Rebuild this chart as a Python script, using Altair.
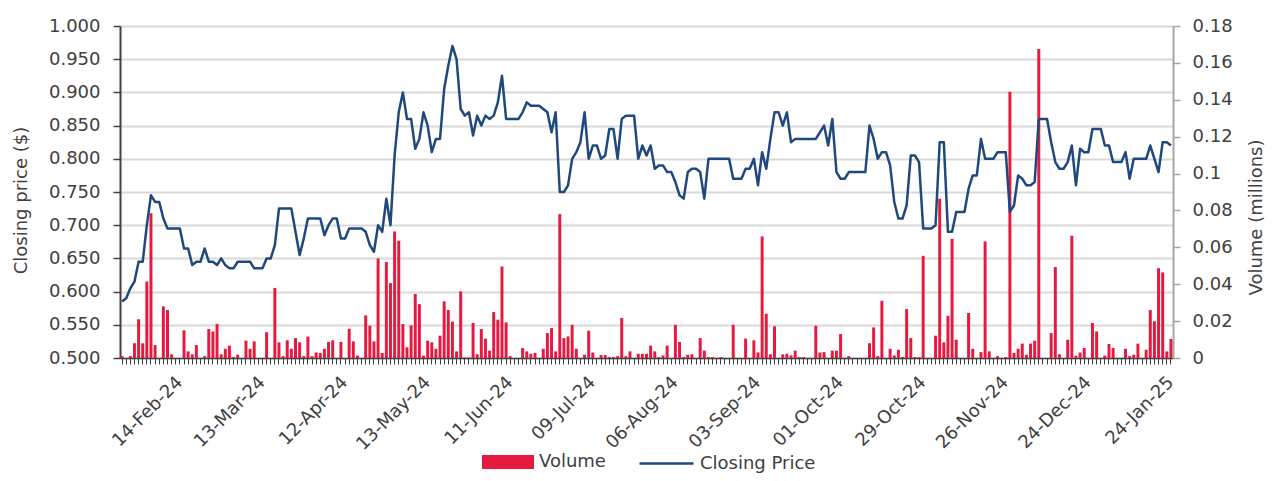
import altair as alt
import pandas as pd

# ---------------- data ----------------
PRICE = [
    0.585, 0.590, 0.605, 0.615, 0.645, 0.645, 0.700, 0.745, 0.735, 0.735,
    0.710, 0.695, 0.695, 0.695, 0.695, 0.665, 0.665, 0.640, 0.645, 0.645,
    0.665, 0.645, 0.645, 0.640, 0.650, 0.640, 0.635, 0.635, 0.645, 0.645,
    0.645, 0.645, 0.635, 0.635, 0.635, 0.650, 0.650, 0.670, 0.725, 0.725,
    0.725, 0.725, 0.690, 0.655, 0.680, 0.710, 0.710, 0.710, 0.710, 0.685,
    0.700, 0.710, 0.710, 0.680, 0.680, 0.695, 0.695, 0.695, 0.695, 0.690,
    0.670, 0.660, 0.700, 0.690, 0.740, 0.700, 0.805, 0.870, 0.900, 0.860,
    0.860, 0.815, 0.830, 0.870, 0.850, 0.810, 0.830, 0.830, 0.905, 0.940,
    0.970, 0.950, 0.875, 0.865, 0.870, 0.835, 0.865, 0.850, 0.865, 0.860,
    0.865, 0.885, 0.925, 0.860, 0.860, 0.860, 0.860, 0.870, 0.885, 0.880,
    0.880, 0.880, 0.875, 0.870, 0.840, 0.870, 0.750, 0.750, 0.760, 0.800,
    0.810, 0.825, 0.870, 0.800, 0.820, 0.820, 0.800, 0.805, 0.845, 0.845,
    0.800, 0.860, 0.865, 0.865, 0.865, 0.800, 0.820, 0.805, 0.820, 0.785,
    0.790, 0.790, 0.780, 0.780, 0.765, 0.745, 0.740, 0.780, 0.785, 0.785,
    0.780, 0.740, 0.800, 0.800, 0.800, 0.800, 0.800, 0.800, 0.770, 0.770,
    0.770, 0.785, 0.785, 0.800, 0.760, 0.810, 0.785, 0.830, 0.870, 0.870,
    0.850, 0.870, 0.825, 0.830, 0.830, 0.830, 0.830, 0.830, 0.830, 0.840,
    0.850, 0.820, 0.860, 0.780, 0.770, 0.770, 0.780, 0.780, 0.780, 0.780,
    0.780, 0.850, 0.830, 0.800, 0.810, 0.810, 0.790, 0.735, 0.710, 0.710,
    0.730, 0.805, 0.805, 0.795, 0.695, 0.695, 0.695, 0.700, 0.825, 0.825,
    0.690, 0.690, 0.720, 0.720, 0.720, 0.755, 0.775, 0.775, 0.830, 0.800,
    0.800, 0.800, 0.810, 0.810, 0.810, 0.720, 0.730, 0.775, 0.770, 0.760,
    0.760, 0.765, 0.860, 0.860, 0.860, 0.825, 0.795, 0.785, 0.785, 0.795,
    0.820, 0.760, 0.815, 0.810, 0.810, 0.845, 0.845, 0.845, 0.820, 0.820,
    0.795, 0.795, 0.795, 0.810, 0.770, 0.800, 0.800, 0.800, 0.800, 0.820,
    0.800, 0.780, 0.825, 0.825, 0.820,
]

VOLUME = [
    0.001, 0, 0.001, 0.008, 0.021, 0.008, 0.0415, 0.0785, 0.007, 0,
    0.028, 0.026, 0.002, 0, 0, 0.015, 0.0036, 0.002, 0.007, 0,
    0.001, 0.0157, 0.0144, 0.0184, 0.002, 0.005, 0.0067, 0.0005, 0.0018, 0,
    0.0094, 0.005, 0.009, 0, 0, 0.014, 0, 0.038, 0.0085, 0.001,
    0.0096, 0.005, 0.0108, 0.0085, 0.001, 0.0116, 0.001, 0.003, 0.0027, 0.005,
    0.0087, 0.0096, 0, 0.0087, 0, 0.0159, 0.009, 0.0013, 0, 0.0231,
    0.0175, 0.009, 0.054, 0.0027, 0.052, 0.0406, 0.0686, 0.0636, 0.0184, 0.0058,
    0.0177, 0.0347, 0.0292, 0.0013, 0.0094, 0.0085, 0.005, 0.0121, 0.0307, 0.026,
    0.0197, 0.0036, 0.0361, 0.0003, 0.0003, 0.019, 0.002, 0.0157, 0.0105, 0.004,
    0.0249, 0.0208, 0.0496, 0.0193, 0.001, 0, 0, 0.0054, 0.0036, 0.0023,
    0.0027, 0, 0.005, 0.0135, 0.0162, 0.0036, 0.078, 0.0108, 0.0117, 0.018,
    0.005, 0, 0.0018, 0.0148, 0.003, 0, 0.0016, 0.0016, 0.0005, 0.0005,
    0.001, 0.0217, 0.001, 0.0036, 0, 0.0023, 0.0023, 0.0023, 0.0067, 0.0036,
    0.0005, 0.0014, 0.0067, 0, 0.018, 0.0087, 0.0005, 0.0018, 0.002, 0,
    0.0108, 0.004, 0.0005, 0.0005, 0, 0.0005, 0, 0, 0.018, 0,
    0, 0.0105, 0, 0.0096, 0.003, 0.0659, 0.024, 0.002, 0.0172, 0,
    0.002, 0.0023, 0.0014, 0.004, 0.0005, 0.0005, 0, 0, 0.0175, 0.003,
    0.0032, 0, 0.004, 0.004, 0.013, 0, 0.001, 0, 0, 0,
    0, 0.008, 0.0166, 0.001, 0.031, 0, 0.005, 0.0014, 0.0045, 0.0005,
    0.0265, 0.0108, 0.0005, 0.0005, 0.0554, 0, 0, 0.0121, 0.0863, 0.0085,
    0.0229, 0.0646, 0.0099, 0, 0, 0.0244, 0.005, 0, 0.0032, 0.0632,
    0.0036, 0, 0.001, 0, 0.0005, 0.1444, 0.0027, 0.005, 0.0078, 0.0018,
    0.0078, 0.0094, 0.1675, 0, 0, 0.0135, 0.0493, 0.002, 0, 0.0099,
    0.0663, 0.0013, 0.003, 0.0054, 0, 0.019, 0.0144, 0, 0.0013, 0.0076,
    0.0054, 0, 0, 0.005, 0.001, 0.0018, 0.0078, 0, 0.0045, 0.026,
    0.0199, 0.0487, 0.0464, 0.0036, 0.0103,
]

TICK_LABELS = [
    "14-Feb-24", "13-Mar-24", "12-Apr-24", "13-May-24", "11-Jun-24",
    "09-Jul-24", "06-Aug-24", "03-Sep-24", "01-Oct-24", "29-Oct-24",
    "26-Nov-24", "24-Dec-24", "24-Jan-25",
]

# ASX trading days, 29-Jan-24 .. 29-Jan-25
HOLIDAYS = ["2024-03-29", "2024-04-01", "2024-04-25", "2024-06-10",
            "2024-12-25", "2024-12-26", "2025-01-01", "2025-01-27"]
days = pd.bdate_range("2024-01-29", "2025-01-29")
days = days[~days.isin(pd.to_datetime(HOLIDAYS))]
DATES = [d.strftime("%d-%b-%y") for d in days]

n = min(len(DATES), len(PRICE), len(VOLUME))
df = pd.DataFrame({
    "date": DATES[:n],
    "price": PRICE[:n],
    "volume": VOLUME[:n],
    "vs": ["Volume"] * n,
    "ps": ["Closing Price"] * n,
})

# ---------------- style ----------------
FONT = "DejaVu Sans"
TXT = "#404040"
RED = "#E8193F"
BLUE = "#1F497D"
GRID = "#D9D9D9"

label_list = ",".join("'%s'" % s for s in TICK_LABELS)
x_enc = alt.X(
    "date:N", sort=None,
    scale=alt.Scale(paddingInner=0.28, paddingOuter=0.14),
    axis=alt.Axis(
        title=None, labelAngle=315, labelAlign="right", labelBaseline="top",
        labelExpr="indexof([%s], datum.value) >= 0 ? datum.value : ''" % label_list,
        labelOverlap=False, labelPadding=9, labelOffset=2,
        labelFont=FONT, labelFontSize=18, labelColor=TXT,
        domainColor="#404040", domainWidth=1.5,
        tickColor="#404040", tickSize=6, tickWidth=1, grid=False,
    ),
)

bars = alt.Chart(df).mark_bar().encode(
    x=x_enc,
    y=alt.Y(
        "volume:Q",
        scale=alt.Scale(domain=[0, 0.18], nice=False, zero=True),
        axis=alt.Axis(
            orient="right", values=[0, 0.02, 0.04, 0.06, 0.08, 0.1, 0.12, 0.14, 0.16, 0.18],
            format=".2~f", grid=False,
            domainColor="#A6A6A6", domainWidth=2, tickColor="#A6A6A6", tickSize=7, tickWidth=1.5,
            labelPadding=12, labelFont=FONT, labelFontSize=18, labelColor=TXT,
            title="Volume (millions)", titleFont=FONT, titleFontSize=18, titleColor=TXT,
            titleFontWeight="normal", titleAngle=270, titleX=83, titleY=191,
            titleBaseline="middle", titleAlign="center",
        ),
    ),
    fill=alt.Fill(
        "vs:N",
        scale=alt.Scale(domain=["Volume"], range=[RED]),
        legend=alt.Legend(
            orient="none", legendX=362, legendY=410, title=None, padding=0,
            symbolType="M-1,-0.27L1,-0.27L1,0.27L-1,0.27Z", symbolSize=2704,
            symbolStrokeWidth=0, labelOffset=5,
            labelFont=FONT, labelFontSize=18, labelColor=TXT,
        ),
    ),
)

line = alt.Chart(df).mark_line(strokeWidth=2.5, strokeJoin="round").encode(
    x=x_enc,
    y=alt.Y(
        "price:Q",
        scale=alt.Scale(domain=[0.5, 1.0], nice=False, zero=False),
        axis=alt.Axis(
            orient="left",
            values=[0.5, 0.55, 0.6, 0.65, 0.7, 0.75, 0.8, 0.85, 0.9, 0.95, 1.0],
            format=".3f", grid=True, gridColor=GRID, gridWidth=2,
            domainColor="#404040", domainWidth=2, tickColor="#404040", tickSize=7, tickWidth=1.5,
            labelPadding=13, labelFont=FONT, labelFontSize=18, labelColor=TXT,
            title="Closing price ($)", titleFont=FONT, titleFontSize=18, titleColor=TXT,
            titleFontWeight="normal", titleAngle=270, titleX=-99, titleY=174,
            titleBaseline="middle", titleAlign="center",
        ),
    ),
    stroke=alt.Stroke(
        "ps:N",
        scale=alt.Scale(domain=["Closing Price"], range=[BLUE]),
        legend=alt.Legend(
            orient="none", legendX=518, legendY=409, title=None, padding=0,
            symbolType="stroke", symbolSize=2916, symbolStrokeWidth=2.5,
            labelOffset=5, labelFont=FONT, labelFontSize=18, labelColor=TXT,
        ),
    ),
)

chart = alt.layer(bars, line).resolve_scale(y="independent").properties(
    width=1053, height=332,
    padding={"left": 112, "top": 18, "right": 93, "bottom": 115},
    autosize=alt.AutoSizeParams(type="none"),
    background="white",
).configure_view(stroke=None)

chart.save("out.html", embed_options={"renderer": "svg", "actions": False})
